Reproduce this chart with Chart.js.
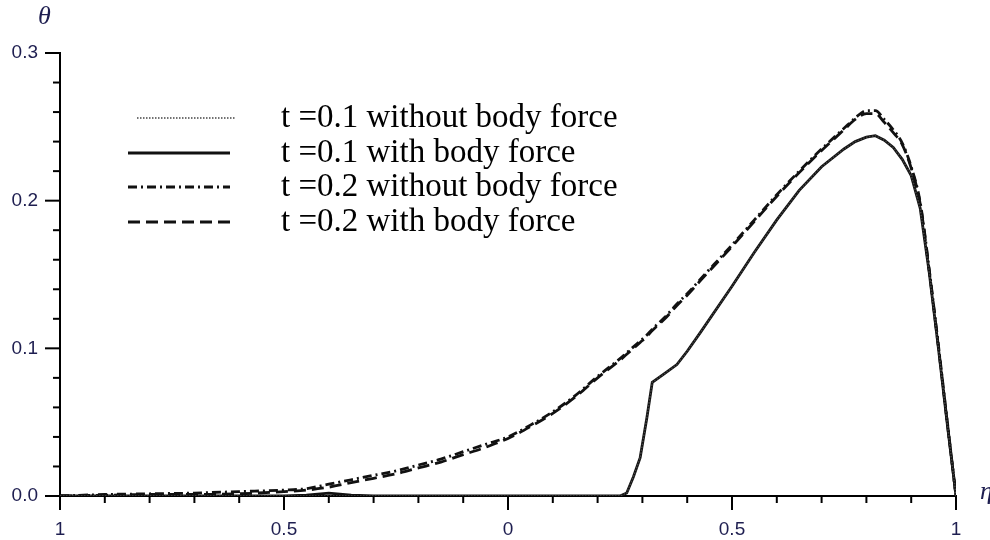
<!DOCTYPE html>
<html>
<head>
<meta charset="utf-8">
<script src="https://cdn.jsdelivr.net/npm/chart.js@4.4.1/dist/chart.umd.min.js"></script>
<style>
  html, body { margin: 0; padding: 0; background: #fff; }
  #wrap { width: 990px; height: 540px; position: relative; }
</style>
</head>
<body>
<div id="wrap"><canvas id="thetaChart"></canvas></div>
<script>
// eta positions (shared by all curves)
const etaValues = [-1, -0.9, -0.8, -0.7, -0.6, -0.5, -0.45, -0.4, -0.35, -0.3, -0.25, -0.2, -0.15, -0.1, -0.05,
  0, 0.05, 0.1, 0.15, 0.2, 0.25, 0.265, 0.28, 0.295, 0.31, 0.322, 0.35, 0.377, 0.4, 0.43,
  0.5, 0.55, 0.6, 0.65, 0.7, 0.75, 0.775, 0.8, 0.82, 0.84, 0.86, 0.88, 0.9, 0.92, 0.94, 0.96, 0.98, 1];

// theta values
const t1NoForce = [0, 0, 0, 0, 0, 0, 0, 0, 0, 0, 0, 0, 0, 0, 0,
  0, 0, 0, 0, 0, 0, 0.002, 0.013, 0.026, 0.053, 0.077, 0.083, 0.089, 0.098, 0.111,
  0.142, 0.165, 0.187, 0.207, 0.223, 0.235, 0.240, 0.243, 0.244, 0.241, 0.236, 0.228, 0.217, 0.195, 0.152, 0.102, 0.05, 0];
const t1Force = [0, 0, 0, 0, 0, 0, 0.0005, 0.002, 0.0005, 0, 0, 0, 0, 0, 0,
  0, 0, 0, 0, 0, 0, 0.002, 0.013, 0.026, 0.053, 0.077, 0.083, 0.089, 0.098, 0.111,
  0.142, 0.165, 0.187, 0.207, 0.223, 0.235, 0.240, 0.243, 0.244, 0.241, 0.236, 0.228, 0.217, 0.195, 0.152, 0.102, 0.05, 0];
const t2NoForce = [0, 0.001, 0.0015, 0.002, 0.003, 0.004, 0.005, 0.008, 0.011, 0.014, 0.017, 0.021, 0.025, 0.030, 0.035,
  0.040, 0.048, 0.057, 0.068, 0.081, 0.093, 0.097, 0.101, 0.105, 0.109, 0.113, 0.121, 0.130, 0.137, 0.147,
  0.170, 0.187, 0.204, 0.220, 0.235, 0.249, 0.256, 0.261, 0.261, 0.255, 0.248, 0.239, 0.223, 0.199, 0.154, 0.104, 0.052, 0];
const t2Force = [0, 0.0005, 0.001, 0.001, 0.0015, 0.003, 0.004, 0.006, 0.009, 0.012, 0.015, 0.019, 0.023, 0.028, 0.033,
  0.039, 0.047, 0.056, 0.067, 0.080, 0.092, 0.096, 0.100, 0.104, 0.108, 0.112, 0.120, 0.129, 0.136, 0.146,
  0.169, 0.186, 0.203, 0.219, 0.234, 0.248, 0.255, 0.259, 0.259, 0.253, 0.246, 0.238, 0.222, 0.198, 0.153, 0.103, 0.051, 0];

const seriesLabels = ['t =0.1 without body force', 't =0.1 with body force', 't =0.2 without body force', 't =0.2 with body force'];
const yTickValues = [0, 0.1, 0.2, 0.3];

const toPoints = arr => arr.map((v, i) => ({ x: etaValues[i], y: v }));

const dashes = [[1.5, 1.5], [], [9, 4, 2, 4], [12, 6]];
const widths = [1.5, 2.8, 2.8, 2.8];

// axis ticks Maple style + legend + axis titles
const decorPlugin = {
  id: 'decor',
  afterDraw(chart) {
    const ctx = chart.ctx;
    const xs = chart.scales.x, ys = chart.scales.y;
    const x0 = xs.getPixelForValue(-1), y0 = ys.getPixelForValue(0);
    ctx.save();
    ctx.strokeStyle = '#000';
    ctx.lineWidth = 2;
    for (let i = 0; i <= 15; i++) {
      const py = ys.getPixelForValue(i * 0.02);
      const len = i % 5 === 0 ? 15 : 7;
      ctx.beginPath(); ctx.moveTo(x0 - len, py); ctx.lineTo(x0, py); ctx.stroke();
    }
    for (let i = 0; i <= 20; i++) {
      const px = xs.getPixelForValue(-1 + i * 0.1);
      const len = i % 5 === 0 ? 14 : 7;
      ctx.beginPath(); ctx.moveTo(px, y0); ctx.lineTo(px, y0 + len); ctx.stroke();
    }

    // legend
    const rows = [118, 153, 187, 222];
    rows.forEach((ry, i) => {
      ctx.beginPath();
      ctx.setLineDash(dashes[i]);
      ctx.lineWidth = widths[i];
      ctx.strokeStyle = i === 0 ? '#444' : '#111';
      ctx.moveTo(i === 0 ? 137 : 128, ry);
      ctx.lineTo(i === 0 ? 236 : 230, ry);
      ctx.stroke();
      ctx.setLineDash([]);
      ctx.fillStyle = '#000';
      ctx.font = '33px "Liberation Serif", "Times New Roman", serif';
      ctx.textBaseline = 'middle';
      ctx.textAlign = 'left';
      ctx.fillText(seriesLabels[i], 281, ry);
    });

    // axis titles
    ctx.fillStyle = '#1e1e50';
    ctx.font = 'italic 26px "Liberation Serif", serif';
    ctx.textBaseline = 'middle';
    ctx.fillText('θ', 38, 17);
    ctx.fillText('η', 980, 492);
    ctx.restore();
  }
};

new Chart(document.getElementById('thetaChart'), {
  type: 'line',
  data: {
    datasets: [t1NoForce, t1Force, t2NoForce, t2Force].map((arr, i) => ({
      label: seriesLabels[i],
      data: toPoints(arr),
      borderColor: i === 0 ? '#444' : '#111',
      borderWidth: widths[i],
      borderDash: dashes[i],
      pointRadius: 0,
      fill: false,
      tension: 0,
      cubicInterpolationMode: i >= 2 ? 'monotone' : 'default'
    }))
  },
  options: {
    responsive: true,
    maintainAspectRatio: false,
    animation: false,
    layout: { padding: { top: 53, right: 34, left: 0, bottom: 0 } },
    plugins: { legend: { display: false }, tooltip: { enabled: false } },
    scales: {
      x: {
        type: 'linear', min: -1, max: 1,
        afterFit: s => { s.height = 44; },
        grid: { display: false },
        border: { display: true, color: '#000', width: 2 },
        ticks: {
          stepSize: 0.5, autoSkip: false, maxRotation: 0, padding: 14,
          color: '#1e1e50',
          font: { family: '"Liberation Sans", Arial, sans-serif', size: 19 },
          callback: v => String(Math.abs(v))
        }
      },
      y: {
        min: 0, max: 0.3,
        afterFit: s => { s.width = 60; },
        afterBuildTicks: s => { s.ticks = yTickValues.map(v => ({ value: v })); },
        grid: { display: false },
        border: { display: true, color: '#000', width: 2 },
        ticks: {
          padding: 14,
          color: '#1e1e50',
          font: { family: '"Liberation Sans", Arial, sans-serif', size: 19 },
          callback: v => v.toFixed(1)
        }
      }
    }
  },
  plugins: [decorPlugin]
});
</script>
</body>
</html>
